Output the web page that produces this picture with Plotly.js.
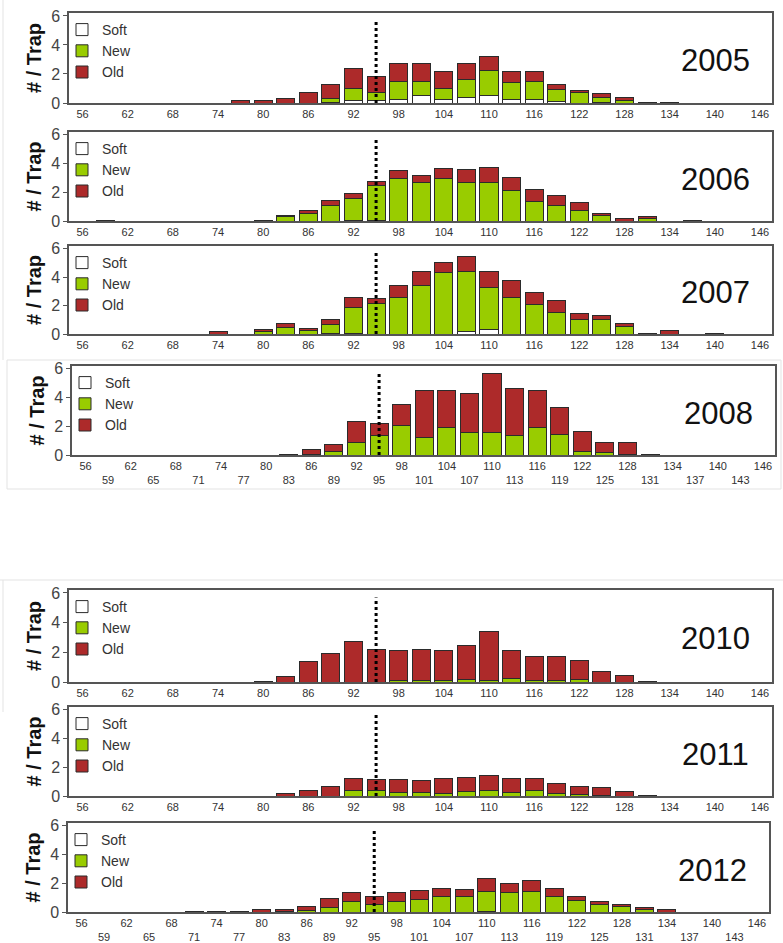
<!DOCTYPE html>
<html>
<head>
<meta charset="utf-8">
<script src="https://cdn.plot.ly/plotly-3.0.1.min.js"></script>
<style>
html,body{margin:0;padding:0;background:#fff;}
#chart{width:783px;height:943px;}
</style>
</head>
<body>
<div id="chart"></div>
<script>
// ---------- DATA ----------
const categories = [56,59,62,65,68,71,74,77,80,83,86,89,92,95,98,101,104,107,110,113,116,119,122,125,128,131,134,137,140,143,146];
const years = ['2005','2006','2007','2008','2010','2011','2012'];
const seriesNames = ['Soft','New','Old'];

const soft2005 = [0,0,0,0,0,0,0,0,0,0,0,0.05,0.2,0.2,0.25,0.5,0.25,0.35,0.55,0.25,0.25,0.1,0,0.05,0,0,0,0,0,0,0];
const new2005  = [0,0,0,0,0,0,0,0,0,0,0,0.25,0.8,0.5,1.2,0.95,0.75,1.25,1.7,1.15,1.2,0.85,0.75,0.3,0.2,0,0,0,0,0,0];
const old2005  = [0,0,0,0,0,0,0,0.15,0.2,0.3,0.7,1.0,1.35,1.1,1.25,1.25,1.2,1.1,0.95,0.8,0.75,0.35,0.1,0.3,0.2,0.05,0.05,0,0,0,0];

const soft2006 = [0,0,0,0,0,0,0,0,0,0,0,0,0.05,0.05,0,0,0,0,0,0,0,0,0,0,0,0,0,0,0,0,0];
const new2006  = [0,0,0,0,0,0,0,0,0,0.3,0.5,1.1,1.5,2.4,2.95,2.65,2.95,2.65,2.65,2.15,1.35,1.05,0.7,0.35,0,0.2,0,0,0,0,0];
const old2006  = [0,0.05,0,0,0,0,0,0,0.05,0.1,0.2,0.3,0.35,0.3,0.55,0.55,0.7,0.95,1.1,0.85,0.85,0.75,0.6,0.2,0.15,0.1,0,0.05,0,0,0];

const soft2007 = [0,0,0,0,0,0,0,0,0,0,0,0.05,0.05,0,0,0,0,0.2,0.3,0,0,0,0,0,0,0,0,0,0,0,0];
const new2007  = [0,0,0,0,0,0,0,0,0.15,0.45,0.25,0.6,1.8,2.15,2.6,3.4,4.3,4.2,2.95,2.6,2.1,1.55,1.0,1.0,0.55,0,0,0,0,0,0];
const old2007  = [0,0,0,0,0,0,0.15,0,0.2,0.3,0.15,0.35,0.75,0.35,0.8,1.0,0.75,1.05,1.15,1.15,0.85,0.8,0.45,0.3,0.2,0.05,0.25,0,0.05,0,0];

const soft2008 = [0,0,0,0,0,0,0,0,0,0,0,0,0,0,0,0,0,0,0,0,0,0,0,0,0,0,0,0,0,0,0];
const new2008  = [0,0,0,0,0,0,0,0,0,0,0.05,0.25,0.9,1.35,2.05,1.25,1.9,1.6,1.6,1.35,1.9,1.45,0.25,0.15,0.05,0,0,0,0,0,0];
const old2008  = [0,0,0,0,0,0,0,0,0,0.05,0.3,0.45,1.4,0.85,1.45,3.25,2.6,2.7,4.1,3.25,2.6,1.85,1.4,0.75,0.8,0.05,0,0,0,0,0];

const soft2010 = [0,0,0,0,0,0,0,0,0,0,0,0,0,0,0,0,0,0,0,0,0,0,0,0,0,0,0,0,0,0,0];
const new2010  = [0,0,0,0,0,0,0,0,0,0,0,0,0,0,0.1,0.1,0.1,0.15,0.1,0.25,0.1,0.1,0.15,0,0,0,0,0,0,0,0];
const old2010  = [0,0,0,0,0,0,0,0,0.05,0.4,1.35,1.95,2.7,2.2,2.05,2.1,2.05,2.3,3.3,1.9,1.6,1.65,1.3,0.7,0.45,0.05,0,0,0,0,0];

const soft2011 = [0,0,0,0,0,0,0,0,0,0,0,0,0,0,0,0,0,0,0,0,0,0,0,0,0,0,0,0,0,0,0];
const new2011  = [0,0,0,0,0,0,0,0,0,0,0,0,0.35,0.35,0.25,0.25,0.2,0.3,0.35,0.25,0.35,0.2,0.1,0.05,0,0,0,0,0,0,0];
const old2011  = [0,0,0,0,0,0,0,0,0,0.2,0.4,0.65,0.9,0.8,0.9,0.8,1.05,1.0,1.1,1.0,0.9,0.7,0.55,0.55,0.3,0.05,0,0,0,0,0];

const soft2012 = [0,0,0,0,0,0,0,0,0,0,0,0,0,0,0,0,0,0,0.05,0,0,0,0,0,0,0,0,0,0,0,0];
const new2012  = [0,0,0,0,0,0,0,0,0,0.05,0.1,0.3,0.7,0.5,0.7,0.85,1.1,1.1,1.4,1.35,1.45,1.05,0.8,0.5,0.35,0.2,0,0,0,0,0];
const old2012  = [0,0,0,0,0,0.05,0.05,0.05,0.15,0.1,0.3,0.65,0.65,0.55,0.65,0.65,0.55,0.5,0.85,0.65,0.75,0.6,0.3,0.2,0.2,0.1,0.15,0,0,0,0];

const cutoffSize = 95;     // dotted reference line position
const cutoffTop = 5.7;     // its height

// ---------- LAYOUT / STYLE ----------
const W = 783, H = 943;
const panels = [
  {year:'2005', soft:soft2005, neu:new2005, old:old2005, l:69, r:772, t:13,  b:103, twoRow:false},
  {year:'2006', soft:soft2006, neu:new2006, old:old2006, l:69, r:772, t:132, b:221, twoRow:false},
  {year:'2007', soft:soft2007, neu:new2007, old:old2007, l:69, r:772, t:246, b:334, twoRow:false},
  {year:'2008', soft:soft2008, neu:new2008, old:old2008, l:72, r:775, t:366, b:455, twoRow:true},
  {year:'2010', soft:soft2010, neu:new2010, old:old2010, l:69, r:772, t:590, b:682, twoRow:false},
  {year:'2011', soft:soft2011, neu:new2011, old:old2011, l:69, r:772, t:707, b:796, twoRow:false},
  {year:'2012', soft:soft2012, neu:new2012, old:old2012, l:68, r:769, t:823, b:912, twoRow:true}
];
const colors = {Soft:'#ffffff', New:'#99cc00', Old:'#ad2a2a'};
const FONT = 'Liberation Sans, Arial, sans-serif';
const px2x = p => p / W;
const px2y = p => 1 - p / H;
const nz = arr => arr.map(v => v === 0 ? null : v);

const traces = [];
const layout = {
  width: W, height: H,
  margin: {l:0, r:0, t:0, b:0},
  paper_bgcolor: '#ffffff',
  plot_bgcolor: '#ffffff',
  barmode: 'stack',
  bargap: 0.2,
  showlegend: true,
  font: {family: FONT, color: '#333'},
  annotations: [],
  shapes: []
};

panels.forEach((p, i) => {
  const n = i + 1;
  const xa = n === 1 ? 'x' : 'x' + n;
  const ya = n === 1 ? 'y' : 'y' + n;
  const legendId = n === 1 ? 'legend' : 'legend' + n;
  const vals = {Soft: p.soft, New: p.neu, Old: p.old};

  seriesNames.forEach(s => {
    traces.push({
      type: 'bar',
      name: s,
      x: categories,
      y: nz(vals[s]),
      xaxis: xa, yaxis: ya,
      legend: legendId,
      marker: {color: colors[s], line: {color: '#2b2b2b', width: 1}},
      hovertemplate: p.year + ' ' + s + ' %{x}: %{y}<extra></extra>'
    });
  });

  const ticktext = categories.map((c, k) => k % 2 === 0 ? String(c) : (p.twoRow ? '<br>' + c : ''));

  layout[n === 1 ? 'xaxis' : 'xaxis' + n] = {
    domain: [px2x(p.l), px2x(p.r)],
    anchor: ya,
    range: [54.2, 147.6],
    tickmode: 'array',
    tickvals: categories,
    ticktext: ticktext,
    ticks: '',
    tickfont: {size: 11, color: '#333', family: FONT},
    showgrid: false, zeroline: false,
    showline: true, mirror: true, linecolor: '#555', linewidth: 1.5
  };
  layout[n === 1 ? 'yaxis' : 'yaxis' + n] = {
    domain: [px2y(p.b), px2y(p.t)],
    anchor: xa,
    range: [0, 6.2],
    tickmode: 'array',
    tickvals: [0, 2, 4, 6],
    ticks: 'outside', ticklen: 4, tickcolor: '#555', tickwidth: 1,
    tickfont: {size: 16, color: '#444', family: FONT},
    showgrid: false, zeroline: false,
    showline: true, mirror: true, linecolor: '#555', linewidth: 1.5,
    title: {text: '<b># / Trap</b>', font: {size: 20, color: '#111', family: FONT}, standoff: 4}
  };
  layout[legendId] = {
    x: px2x(p.l - 7), xanchor: 'left',
    y: px2y(p.t + 1), yanchor: 'top',
    bgcolor: 'rgba(0,0,0,0)',
    borderwidth: 0,
    traceorder: 'normal',
    tracegroupgap: 0,
    itemwidth: 30,
    font: {size: 14, color: '#333', family: 'Liberation Sans Narrow, Liberation Sans, Arial, sans-serif'}
  };
  layout.annotations.push({
    xref: xa + ' domain', yref: ya + ' domain',
    x: 0.92, y: 0.47, xanchor: 'center', yanchor: 'middle',
    text: p.year, showarrow: false,
    font: {size: 31, color: '#111', family: FONT}
  });
  layout.shapes.push({
    type: 'line', xref: xa, yref: ya,
    x0: cutoffSize, x1: cutoffSize, y0: 0, y1: cutoffTop,
    line: {color: '#000', width: 3, dash: 'dot'}
  });
});

// faint frames of the original image crops
const frameColor = '#e3e3e3';
layout.shapes.push(
  {type:'line', xref:'paper', yref:'paper', x0:px2x(3), x1:px2x(3), y0:px2y(0), y1:px2y(360), line:{color:frameColor, width:1}, layer:'below'},
  {type:'rect', xref:'paper', yref:'paper', x0:px2x(7), x1:px2x(781), y0:px2y(489), y1:px2y(360), line:{color:frameColor, width:1}, layer:'below'},
  {type:'line', xref:'paper', yref:'paper', x0:0, x1:1, y0:px2y(580), y1:px2y(580), line:{color:frameColor, width:1}, layer:'below'},
  {type:'line', xref:'paper', yref:'paper', x0:px2x(3), x1:px2x(3), y0:px2y(580), y1:px2y(712), line:{color:frameColor, width:1}, layer:'below'}
);

Plotly.newPlot('chart', traces, layout, {displayModeBar: false, staticPlot: false});
</script>
</body>
</html>
